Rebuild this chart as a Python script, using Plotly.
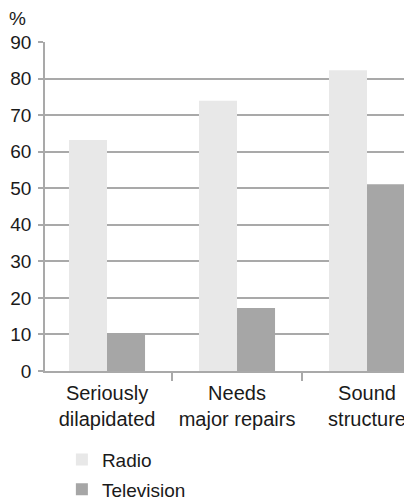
import plotly.graph_objects as go

categories = ["Seriously<br>dilapidated", "Needs<br>major repairs", "Sound<br>structure"]
radio = [63.2, 73.9, 82.3]
television = [10.4, 17.2, 51.1]
y_ticks = [0, 10, 20, 30, 40, 50, 60, 70, 80, 90]

FONT = "Liberation Sans, Arial, sans-serif"
GRID = "#a9a9a9"

fig = go.Figure()
fig.add_trace(go.Bar(x=categories, y=radio, name="Radio", marker_color="#e8e8e8",
                     marker_line_width=0, legendgroup="a"))
fig.add_trace(go.Bar(x=categories, y=television, name="Television", marker_color="#a6a6a6",
                     marker_line_width=0, legendgroup="b"))

# page body has an 8px default margin, so the figure is sized to fit the window
fig.update_layout(
    width=404, height=496,
    margin=dict(l=37, r=0, t=34, b=133, autoexpand=False),
    paper_bgcolor="white", plot_bgcolor="white",
    barmode="group", bargap=0.415, bargroupgap=0,
    font=dict(family=FONT, size=19, color="#1a1a1a"),
    showlegend=True,
    legend=dict(x=0.046, y=-0.212, xanchor="left", yanchor="top",
                orientation="v", traceorder="grouped", tracegroupgap=2,
                font=dict(size=19), bgcolor="rgba(0,0,0,0)", borderwidth=0),
    annotations=[dict(text="%", xref="paper", yref="paper", x=-0.075, y=1.0,
                      xanchor="center", yanchor="bottom", yshift=11, showarrow=False,
                      font=dict(size=19, family=FONT))],
)
fig.update_xaxes(
    type="category", range=[-0.477, 2.346], automargin=False,
    showgrid=False, showline=True, linecolor=GRID, linewidth=1.5,
    ticks="outside", tickson="boundaries", ticklen=8, tickcolor=GRID, tickwidth=1.5,
    ticklabelstandoff=3, tickfont=dict(size=20),
)
fig.update_yaxes(
    range=[0, 90], tickvals=y_ticks, automargin=False,
    showgrid=True, gridcolor=GRID, gridwidth=1.5,
    showline=True, linecolor=GRID, linewidth=1.5,
    ticks="outside", ticklen=5, tickcolor=GRID, tickwidth=1.5,
    ticklabelstandoff=3, tickfont=dict(size=19), zeroline=False,
)

fig.write_html("out.html")
